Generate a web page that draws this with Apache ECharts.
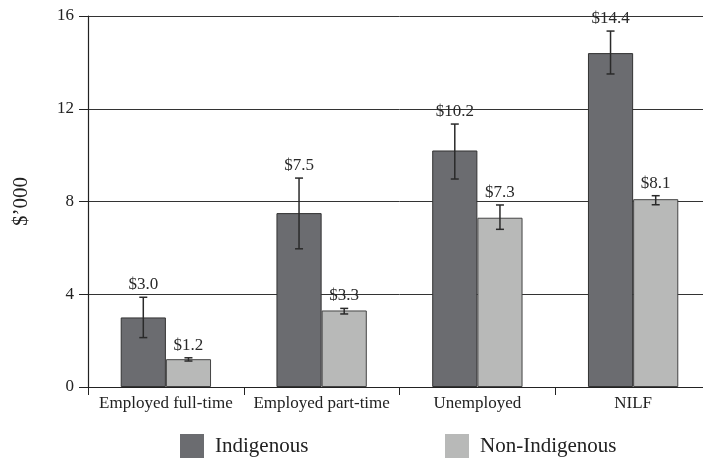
<!DOCTYPE html>
<html>
<head>
<meta charset="utf-8">
<script src="https://cdn.jsdelivr.net/npm/echarts@6/dist/echarts.min.js"></script>
<style>html,body{margin:0;padding:0;background:#fff;overflow:hidden}#c{width:711px;height:458px}</style>
</head>
<body>
<div id="c"></div>
<script>
const categories = ['Employed full-time', 'Employed part-time', 'Unemployed', 'NILF'];
const indigenous = [3.0, 7.5, 10.2, 14.4];
const nonIndigenous = [1.2, 3.3, 7.3, 8.1];
const indLow = [2.13, 5.96, 8.97, 13.5];
const indHigh = [3.87, 9.01, 11.34, 15.35];
const nonLow = [1.12, 3.15, 6.8, 7.86];
const nonHigh = [1.26, 3.39, 7.85, 8.25];
const yTicks = [0, 4, 8, 12, 16];

const FONT = 'Liberation Serif';
const chart = echarts.init(document.getElementById('c'));

function errData(low, high, vals) {
  return categories.map((c, i) => [i, low[i], high[i], vals[i]]);
}
function makeRender(sign) {
  return function (params, api) {
    const idx = api.value(0), lo = api.value(1), hi = api.value(2), v = api.value(3);
    const band = api.size([1, 0])[0];
    const x = api.coord([idx, 0])[0] + sign * band * 0.145;
    const yLo = api.coord([idx, lo])[1];
    const yHi = api.coord([idx, hi])[1];
    const cap = 4;
    const st = { stroke: '#2a2a2a', lineWidth: 1.5 };
    return {
      type: 'group',
      children: [
        { type: 'line', shape: { x1: x, y1: yLo, x2: x, y2: yHi }, style: st },
        { type: 'line', shape: { x1: x - cap, y1: yLo, x2: x + cap, y2: yLo }, style: st },
        { type: 'line', shape: { x1: x - cap, y1: yHi, x2: x + cap, y2: yHi }, style: st },
        { type: 'text', style: { x: x, y: yHi - 4, text: '$' + v.toFixed(1), align: 'center', verticalAlign: 'bottom', font: '17px "' + FONT + '"', fill: '#2a2a2a' } }
      ]
    };
  };
}

const legendBase = { itemWidth: 24, itemHeight: 24, itemGap: 0, icon: 'rect', padding: 0, top: 434,
  itemStyle: { borderWidth: 0 },
  textStyle: { fontFamily: FONT, fontSize: 21, color: '#222', padding: [0, 0, 0, 6] } };

chart.setOption({
  animation: false,
  textStyle: { fontFamily: FONT },
  grid: { left: 88, top: 16, bottom: 71, right: 0 },
  legend: [
    Object.assign({ data: ['Indigenous'], left: 180 }, legendBase),
    Object.assign({ data: ['Non-Indigenous'], left: 445 }, legendBase)
  ],
  xAxis: {
    type: 'category',
    data: categories,
    axisLine: { lineStyle: { color: '#222', width: 1.2 } },
    axisTick: { show: true, length: 8, lineStyle: { color: '#222' } },
    axisLabel: { color: '#222', fontSize: 17, fontFamily: FONT, margin: 8, interval: 0 }
  },
  yAxis: {
    type: 'value', min: 0, max: 16, interval: 4,
    name: "$’000", nameLocation: 'middle', nameGap: 56, nameRotate: 90,
    nameTextStyle: { fontFamily: FONT, fontSize: 21, color: '#222' },
    axisLine: { show: true, lineStyle: { color: '#222', width: 1.2 } },
    axisTick: { show: true, length: 9, lineStyle: { color: '#222' } },
    axisLabel: { color: '#222', fontSize: 17, fontFamily: FONT, margin: 14,
      formatter: v => yTicks.includes(v) ? String(v) : '' },
    splitLine: { lineStyle: { color: '#333', width: 1 } }
  },
  series: [
    { name: 'Indigenous', type: 'bar', data: indigenous, barWidth: '29%', barGap: '0%',
      itemStyle: { color: '#6b6c70', borderColor: '#333', borderWidth: 1 } },
    { name: 'Non-Indigenous', type: 'bar', data: nonIndigenous, barWidth: '29%', barGap: '0%',
      itemStyle: { color: '#b8b9b8', borderColor: '#444', borderWidth: 1 } },
    { type: 'custom', data: errData(indLow, indHigh, indigenous), renderItem: makeRender(-1), z: 5, silent: true },
    { type: 'custom', data: errData(nonLow, nonHigh, nonIndigenous), renderItem: makeRender(1), z: 5, silent: true }
  ]
});
</script>
</body>
</html>
